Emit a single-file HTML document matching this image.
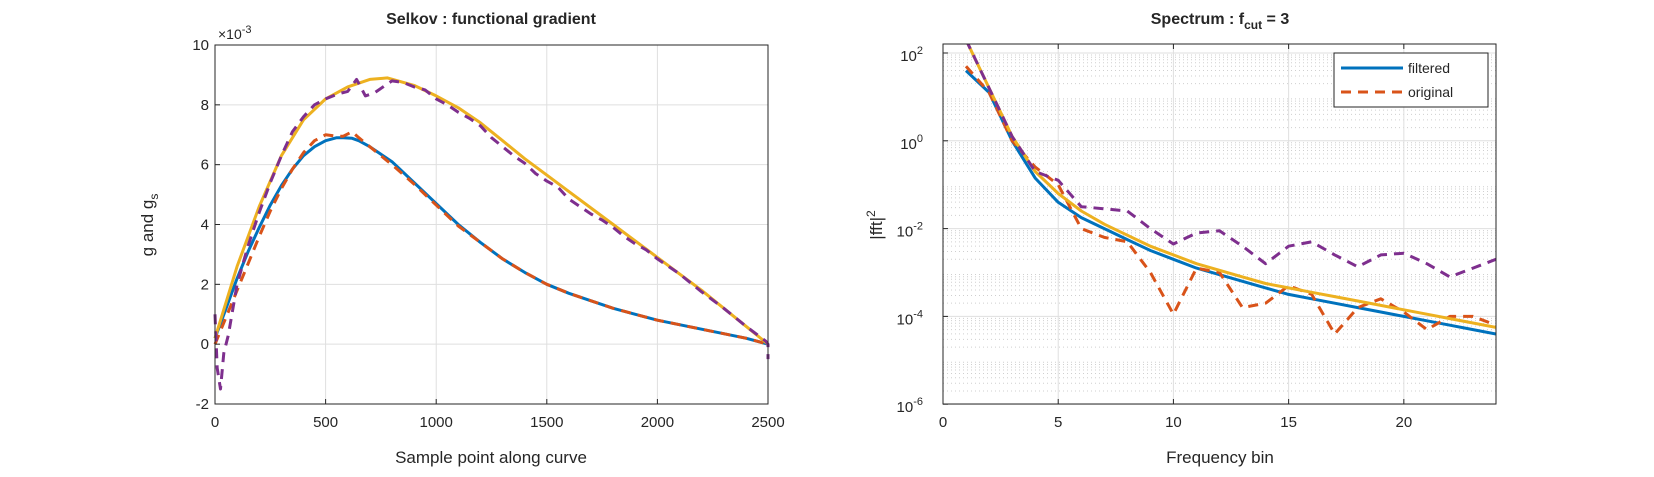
<!DOCTYPE html>
<html><head><meta charset="utf-8"><style>
body{margin:0;background:#fff;width:1654px;height:472px;overflow:hidden}
svg text{font-family:"Liberation Sans",sans-serif;fill:#262626}
</style></head><body>
<svg id="fig" width="1654" height="472" xmlns="http://www.w3.org/2000/svg"></svg>
<script>
// ---- left chart data ----
const gX=[0,50,100,150,200,250,300,350,400,450,500,550,580,620,650,700,800,900,1000,1100,1200,1300,1400,1500,1600,1700,1800,1900,2000,2100,2200,2300,2400,2500];
const gFilt=[0.2,1.2,2.2,3.1,3.9,4.65,5.3,5.85,6.3,6.6,6.8,6.9,6.9,6.88,6.8,6.6,6.1,5.4,4.7,4.0,3.4,2.85,2.4,2.0,1.7,1.45,1.2,1.0,0.8,0.65,0.5,0.35,0.2,0];
const gOrig=[0,0.9,1.8,2.7,3.6,4.45,5.2,5.85,6.4,6.8,7.0,6.95,6.95,7.1,6.9,6.6,6.0,5.35,4.65,3.95,3.4,2.85,2.4,2.0,1.7,1.45,1.2,1.0,0.8,0.65,0.5,0.35,0.2,0];
const gsX=[0,100,200,300,400,500,600,700,780,900,1000,1100,1200,1300,1400,1500,1600,1700,1800,1900,2000,2100,2200,2300,2400,2500];
const gsFilt=[0.2,2.6,4.6,6.3,7.5,8.2,8.6,8.85,8.9,8.65,8.3,7.9,7.4,6.8,6.2,5.65,5.1,4.55,4.0,3.45,2.9,2.35,1.8,1.2,0.6,0];
const gsOX=[0,10,25,40,60,100,150,200,250,300,350,400,450,500,550,600,640,680,720,760,800,850,900,950,1000,1050,1100,1150,1200,1250,1300,1350,1400,1450,1500,1550,1600,1650,1700,1750,1800,1850,1900,1950,2000,2100,2200,2300,2400,2490,2500,2500];
const gsOrig=[1.0,-0.8,-1.5,-0.3,0.3,2.0,3.3,4.4,5.4,6.3,7.1,7.6,8.0,8.2,8.35,8.45,8.85,8.3,8.4,8.6,8.8,8.75,8.6,8.5,8.2,8.0,7.75,7.55,7.3,6.9,6.6,6.3,6.05,5.7,5.45,5.25,4.85,4.6,4.35,4.15,3.9,3.6,3.35,3.15,2.85,2.35,1.75,1.2,0.6,0.1,0,-0.5];
const leftXTicks=[0,500,1000,1500,2000,2500];
const leftYTicks=[-2,0,2,4,6,8,10];
// ---- right chart data ----
const bins=[1,2,3,4,5,6,7,8,9,10,11,12,13,14,15,16,17,18,19,20,21,22,23,24];
const specFilt=[1.6,1.1,0.0,-0.85,-1.4,-1.75,-2.0,-2.25,-2.5,-2.7,-2.9,-3.05,-3.2,-3.35,-3.5,-3.6,-3.7,-3.8,-3.9,-4.0,-4.1,-4.2,-4.3,-4.4];
const specOrig=[1.7,1.1,0.0,-0.6,-1.0,-2.0,-2.2,-2.3,-3.0,-3.95,-2.9,-3.0,-3.8,-3.7,-3.3,-3.5,-4.4,-3.8,-3.6,-3.9,-4.3,-4.0,-4.0,-4.2];
const specGsFilt=[2.3,1.2,0.1,-0.7,-1.2,-1.6,-1.9,-2.15,-2.4,-2.6,-2.8,-2.95,-3.1,-3.25,-3.35,-3.45,-3.55,-3.65,-3.75,-3.85,-3.95,-4.05,-4.15,-4.25];
const specGsOrig=[2.3,1.2,0.1,-0.7,-0.9,-1.5,-1.55,-1.6,-2.0,-2.35,-2.1,-2.05,-2.4,-2.8,-2.4,-2.3,-2.6,-2.87,-2.6,-2.56,-2.8,-3.1,-2.9,-2.7];
const rightXTicks=[0,5,10,15,20];
const rightYTicks=[-6,-4,-2,0,2];

const NS="http://www.w3.org/2000/svg";
const svg=document.getElementById('fig');
function mk(tag,attrs,parent){const e=document.createElementNS(NS,tag);for(const k in attrs)e.setAttribute(k,attrs[k]);(parent||svg).appendChild(e);return e;}
const BLUE="#0072bd",ORANGE="#d95319",YELLOW="#edb120",PURPLE="#7e2f8e";

// left axes
const L={x0:215,x1:768,y0:404,y1:45};
const lx=v=>L.x0+(v-0)/2500*(L.x1-L.x0);
const ly=v=>L.y0-(v+2)/12*(L.y0-L.y1);
// right axes
const R={x0:943,x1:1496,y0:404,y1:44};
const rx=v=>R.x0+v/24*(R.x1-R.x0);
const ry=v=>53-(v-2)*43.9;

// grids left
for(const t of leftXTicks){const g=mk('line',{x1:lx(t),x2:lx(t),y1:L.y1,y2:L.y0,stroke:'#dfdfdf','stroke-width':1});
}
for(const t of leftYTicks){const g=mk('line',{x1:L.x0,x2:L.x1,y1:ly(t),y2:ly(t),stroke:'#dfdfdf','stroke-width':1});
}
// grids right
for(let d=-6;d<2.3;d++){for(let m=2;m<10;m++){const v=d+Math.log10(m);if(ry(v)<R.y1)continue;
const g=mk('line',{x1:R.x0,x2:R.x1,y1:ry(v),y2:ry(v),stroke:'#cfcfcf','stroke-width':1,'stroke-dasharray':'1,3'});
}}
for(const t of rightYTicks){const g=mk('line',{x1:R.x0,x2:R.x1,y1:ry(t),y2:ry(t),stroke:'#dfdfdf','stroke-width':1});
}
for(const t of rightXTicks){const g=mk('line',{x1:rx(t),x2:rx(t),y1:R.y1,y2:R.y0,stroke:'#dfdfdf','stroke-width':1});
}

function line(xs,ys,fx,fy,color,dash,name,clip){const p=xs.map((x,i)=>fx(x).toFixed(1)+','+fy(ys[i]).toFixed(1)).join(' ');
const e=mk('polyline',{points:p,fill:'none',stroke:color,'stroke-width':3,'stroke-dasharray':dash||'none','stroke-linejoin':'round','clip-path':clip});
return e;}
const defs=mk('defs',{});
const c1=mk('clipPath',{id:'cl'},defs);mk('rect',{x:L.x0-3,y:L.y1,width:L.x1-L.x0+6,height:L.y0-L.y1},c1);
const c2=mk('clipPath',{id:'cr'},defs);mk('rect',{x:R.x0,y:R.y1,width:R.x1-R.x0,height:R.y0-R.y1},c2);

line(gX,gFilt,lx,ly,BLUE,null,'g-filtered-line','url(#cl)');
line(gX,gOrig,lx,ly,ORANGE,'10,7','g-original-line','url(#cl)');
line(gsX,gsFilt,lx,ly,YELLOW,null,'gs-filtered-line','url(#cl)');
line(gsOX,gsOrig,lx,ly,PURPLE,'10,7','gs-original-line','url(#cl)');

line(bins,specFilt,rx,ry,BLUE,null,'spectrum-filtered-line','url(#cr)');
line(bins,specOrig,rx,ry,ORANGE,'10,7','spectrum-original-line','url(#cr)');
line(bins,specGsFilt,rx,ry,YELLOW,null,'spectrum-gs-filtered-line','url(#cr)');
line(bins,specGsOrig,rx,ry,PURPLE,'10,7','spectrum-gs-original-line','url(#cr)');

// axes boxes
for(const [A,n] of [[L,'left-axes-box'],[R,'right-axes-box']]){const b=mk('rect',{x:A.x0,y:A.y1,width:A.x1-A.x0,height:A.y0-A.y1,fill:'none',stroke:'#262626','stroke-width':1});
}

function txt(s,x,y,opts,name){const t=mk('text',Object.assign({x:x,y:y,'font-size':15},opts||{}));t.innerHTML=s;
return t;}
// left ticks
for(const t of leftXTicks){mk('line',{x1:lx(t),x2:lx(t),y1:L.y0,y2:L.y0-5,stroke:'#262626'});
txt(String(t),lx(t),427,{'text-anchor':'middle'},'left-x-tick-label');}
for(const t of leftYTicks){mk('line',{x1:L.x0,x2:L.x0+5,y1:ly(t),y2:ly(t),stroke:'#262626'});
txt(String(t),L.x0-6,ly(t)+5,{'text-anchor':'end'},'left-y-tick-label');}
txt('×10<tspan dy="-6" font-size="11">-3</tspan>',218,39,{'font-size':14,fill:'#444'},'left-y-exponent');
txt('Selkov : functional gradient',491,24,{'text-anchor':'middle','font-weight':'bold','font-size':16},'left-title');
txt('Sample point along curve',491,463,{'text-anchor':'middle','font-size':17},'left-x-axis-title');
txt('g and g<tspan dy="5" font-size="12">s</tspan>',0,0,{'text-anchor':'middle','font-size':17,transform:'translate(153,225) rotate(-90)'},'left-y-axis-title');
// right ticks
for(const t of rightXTicks){mk('line',{x1:rx(t),x2:rx(t),y1:R.y0,y2:R.y0-5,stroke:'#262626'});
mk('line',{x1:rx(t),x2:rx(t),y1:R.y1,y2:R.y1+5,stroke:'#262626'});
txt(String(t),rx(t),427,{'text-anchor':'middle'},'right-x-tick-label');}
for(const t of rightYTicks){mk('line',{x1:R.x0,x2:R.x0+5,y1:ry(t),y2:ry(t),stroke:'#262626'});
txt('10<tspan dy="-7" font-size="11">'+t+'</tspan>',R.x0-20,ry(t)+8,{'text-anchor':'end','font-size':15},'right-y-tick-label');}
txt('Spectrum : f<tspan dy="5" font-size="12">cut</tspan><tspan dy="-5"> = 3</tspan>',1220,24,{'text-anchor':'middle','font-weight':'bold','font-size':16},'right-title');
txt('Frequency bin',1220,463,{'text-anchor':'middle','font-size':17},'right-x-axis-title');
txt('|fft|<tspan dy="-7" font-size="12">2</tspan>',0,0,{'text-anchor':'middle','font-size':17,transform:'translate(882,225) rotate(-90)'},'right-y-axis-title');
// legend
const lg=mk('g',{});
mk('rect',{x:1334,y:53,width:154,height:54,fill:'#fff',stroke:'#262626','stroke-width':1},lg);
mk('line',{x1:1341,x2:1403,y1:68,y2:68,stroke:BLUE,'stroke-width':3},lg);
mk('line',{x1:1341,x2:1403,y1:92,y2:92,stroke:ORANGE,'stroke-width':3,'stroke-dasharray':'10,7'},lg);
const t1=txt('filtered',1408,73,{'font-size':14},'legend-entry-filtered');lg.appendChild(t1);
const t2=txt('original',1408,97,{'font-size':14},'legend-entry-original');lg.appendChild(t2);
</script>
</body></html>
